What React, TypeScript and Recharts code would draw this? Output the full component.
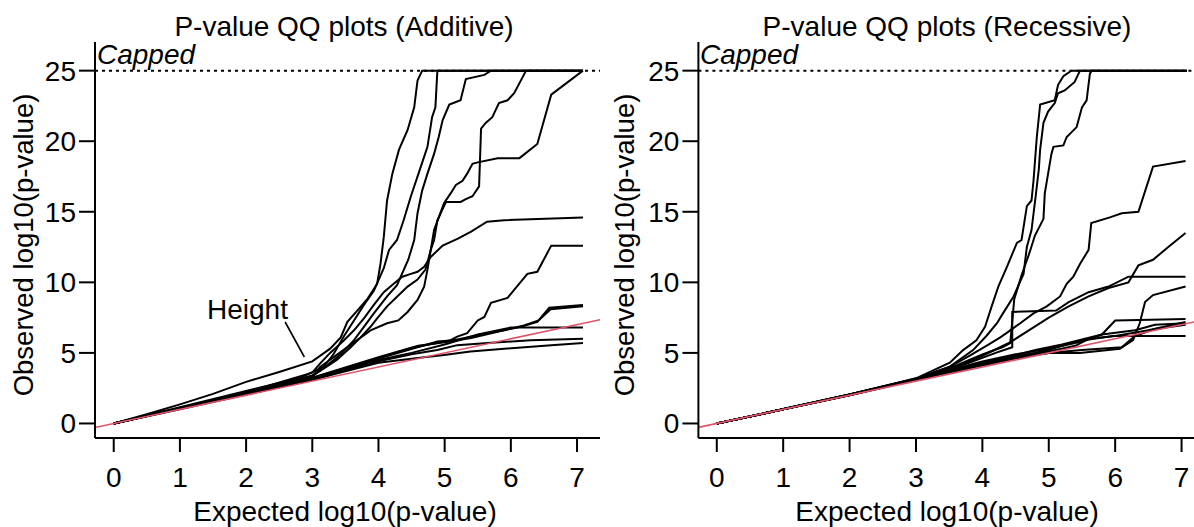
import { LineChart, Line, XAxis, YAxis, ReferenceLine } from 'recharts';

const FONT = '"Liberation Sans", Arial, Helvetica, sans-serif';
const xTicks = [0, 1, 2, 3, 4, 5, 6, 7];
const yTicks = [0, 5, 10, 15, 20, 25];
const CAP = 25;

// Additive panel: [expected, observed] pairs for each trait
const addHeight: [number, number][] = [[0,0],[0.5,0.65],[1,1.35],[1.5,2.1],[2,2.95],[2.5,3.65],[3,4.4],[3.27,5.3],[3.43,6.1],[3.53,7.2],[3.68,8.0],[3.83,8.8],[3.98,9.9],[4.03,11.3],[4.08,13.2],[4.13,15.8],[4.21,17.7],[4.31,19.4],[4.44,20.8],[4.54,22.4],[4.59,24.3],[4.66,25],[7.09,25]];
const addB: [number, number][] = [[0,0],[1,1.15],[2,2.3],[2.8,3.2],[3.17,4.0],[3.32,4.9],[3.48,6.2],[3.63,7.3],[3.78,8.4],[3.93,9.4],[4.08,11.0],[4.16,12.3],[4.28,13.0],[4.38,14.4],[4.49,16.1],[4.64,18.2],[4.74,19.6],[4.81,21.7],[4.86,22.4],[4.89,25],[7.09,25]];
const addC: [number, number][] = [[0,0],[1,1.1],[2,2.2],[3,3.4],[3.22,4.1],[3.43,4.9],[3.63,5.9],[3.78,6.85],[3.93,7.8],[4.13,9.0],[4.28,9.8],[4.45,11.6],[4.54,13.0],[4.59,14.9],[4.66,16.5],[4.74,17.7],[4.84,19.1],[4.91,20.3],[4.97,21.5],[5.07,22.6],[5.24,22.9],[5.32,24.4],[5.6,24.7],[5.7,25],[7.09,25]];
const addD: [number, number][] = [[0,0],[1,1.1],[2,2.2],[3,3.35],[3.37,4.5],[3.58,5.4],[3.73,6.1],[3.88,6.85],[3.98,7.45],[4.13,8.3],[4.28,8.98],[4.44,9.7],[4.59,10.2],[4.71,10.9],[4.79,12.3],[4.84,13.0],[4.89,14.4],[5.02,15.7],[5.24,15.7],[5.32,15.9],[5.42,16.1],[5.52,16.8],[5.55,20.9],[5.62,21.3],[5.72,21.7],[5.82,22.7],[5.95,22.9],[6.05,23.4],[6.23,25],[7.09,25]];
const addE: [number, number][] = [[0,0],[1,1.08],[2,2.15],[3,3.3],[3.12,4.0],[3.5,5.3],[3.88,6.6],[4.13,7.1],[4.3,7.3],[4.44,7.9],[4.59,8.75],[4.69,9.7],[4.74,10.9],[4.84,13.7],[4.99,15.6],[5.09,16.3],[5.17,16.9],[5.27,17.2],[5.34,17.7],[5.42,18.4],[5.5,18.5],[5.8,18.8],[6.13,18.8],[6.4,19.8],[6.61,23.3],[7.09,25]];
const addF: [number, number][] = [[0,0],[1,1.1],[2,2.2],[3,3.6],[3.12,4.26],[3.27,5.0],[3.48,5.9],[3.63,6.6],[3.78,7.45],[3.93,8.4],[4.08,9.3],[4.23,9.9],[4.36,10.4],[4.49,10.6],[4.59,10.75],[4.69,11.1],[4.79,11.8],[4.97,12.6],[5.2,13.1],[5.4,13.6],[5.64,14.3],[5.9,14.4],[7.09,14.6]];
const addG: [number, number][] = [[0,0],[1,1.05],[2,2.1],[3,3.2],[4,4.65],[4.5,5.35],[5.09,5.9],[5.19,6.15],[5.34,6.4],[5.5,7.3],[5.6,7.55],[5.7,8.55],[5.95,8.9],[6.25,10.6],[6.4,10.75],[6.61,12.6],[7.09,12.6]];
const addH: [number, number][] = [[0,0],[1,1.05],[2,2.1],[3,3.2],[4,4.6],[4.89,5.8],[5.14,5.9],[5.39,6.15],[5.65,6.4],[5.9,6.6],[6.15,6.85],[6.4,7.2],[6.58,8.2],[7.09,8.4]];
const addH2: [number, number][] = [[0,0],[1,1.05],[2,2.12],[3,3.25],[4,4.7],[4.6,5.5],[5.0,5.75],[5.4,6.05],[5.8,6.5],[6.2,6.95],[6.42,7.3],[6.6,8.1],[7.09,8.3]];
const addI: [number, number][] = [[0,0],[1,1.05],[2,2.1],[3,3.15],[4,4.5],[4.5,5.0],[5.0,5.6],[5.5,6.3],[6.0,6.8],[7.09,6.8]];
const addJ: [number, number][] = [[0,0],[1,1.05],[2,2.05],[3,3.1],[4,4.4],[4.5,4.9],[4.89,5.2],[5.19,5.55],[5.65,5.7],[6.3,5.9],[7.09,6.0]];
const addK: [number, number][] = [[0,0],[1,1.0],[2,2.05],[3,3.1],[4,4.3],[4.69,4.7],[4.99,4.85],[5.39,5.1],[5.9,5.3],[6.61,5.55],[7.09,5.7]];

// Recessive panel
const recA: [number, number][] = [[0,0],[1,1.02],[2,2.05],[3,3.2],[3.51,4.3],[3.71,5.2],[3.91,5.9],[4.04,6.85],[4.14,8.3],[4.24,9.7],[4.37,11.1],[4.52,12.8],[4.59,13.0],[4.67,15.4],[4.74,15.8],[4.77,17.2],[4.82,20.3],[4.87,22.6],[5.09,22.9],[5.14,24.0],[5.22,24.6],[5.34,25],[7.08,25]];
const recB: [number, number][] = [[0,0],[1,1.02],[2,2.05],[3,3.18],[3.5,4.0],[3.86,5.2],[4.06,6.2],[4.22,7.1],[4.31,7.8],[4.47,9.0],[4.62,10.6],[4.67,12.5],[4.74,13.7],[4.8,16.0],[4.85,18.0],[4.87,19.4],[4.92,21.3],[4.99,22.1],[5.09,22.7],[5.14,23.4],[5.24,23.6],[5.39,24.2],[5.47,25],[7.08,25]];
const recC: [number, number][] = [[0,0],[1,1.0],[2,2.03],[3,3.15],[3.6,4.1],[4.0,4.9],[4.3,5.4],[4.42,5.7],[4.48,8.8],[4.59,10.5],[4.71,12.1],[4.79,13.3],[4.92,14.5],[4.94,16.3],[4.99,17.7],[5.04,19.1],[5.07,19.6],[5.22,19.7],[5.27,20.3],[5.42,21.0],[5.5,22.4],[5.57,22.9],[5.62,24.8],[5.65,25],[7.08,25]];
const recD: [number, number][] = [[0,0],[1,1.0],[2,2.03],[3,3.15],[3.5,4.0],[3.81,4.8],[4.06,5.5],[4.27,6.1],[4.42,6.6],[4.57,7.1],[4.77,7.8],[4.97,8.3],[5.17,9.0],[5.27,9.9],[5.37,10.4],[5.47,11.3],[5.6,12.3],[5.64,14.2],[5.92,14.6],[6.1,14.9],[6.35,15.0],[6.57,18.2],[7.06,18.6]];
const recE: [number, number][] = [[0,0],[1,1.0],[2,2.02],[3,3.12],[3.6,4.0],[4.0,4.8],[4.4,5.7],[4.7,6.6],[5.0,7.5],[5.3,8.3],[5.6,9.0],[5.9,9.6],[6.2,10.0],[6.35,11.2],[6.57,11.6],[6.8,12.5],[7.06,13.5]];
const recF: [number, number][] = [[0,0],[1,1.0],[2,2.02],[3,3.1],[3.8,4.3],[4.2,5.0],[4.45,5.4],[4.45,7.9],[5.11,8.0],[5.3,8.6],[5.6,9.3],[5.9,9.7],[6.2,10.4],[7.06,10.4]];
const recG: [number, number][] = [[0,0],[1,1.0],[2,2.0],[3,3.1],[4,4.3],[4.5,4.7],[5.0,5.0],[5.47,5.0],[6.07,5.3],[6.27,5.9],[6.37,7.1],[6.45,8.6],[6.57,9.1],[7.06,9.7]];
const recH: [number, number][] = [[0,0],[1,1.0],[2,2.05],[3,3.15],[4,4.4],[4.5,4.9],[5.0,5.3],[5.5,5.8],[5.8,6.3],[6.0,7.3],[7.06,7.4]];
const recI: [number, number][] = [[0,0],[1,1.0],[2,2.05],[3,3.15],[4,4.3],[4.5,4.8],[5.0,5.1],[5.4,5.5],[5.6,6.0],[6.0,6.2],[6.5,6.6],[7.06,7.2]];
const recJ: [number, number][] = [[0,0],[1,1.0],[2,2.02],[3,3.1],[4,4.2],[4.5,4.7],[5.0,5.2],[5.4,5.8],[5.97,6.2],[7.06,6.2]];
const recK: [number, number][] = [[0,0],[1,1.0],[2,2.0],[3,3.1],[4,4.1],[4.5,4.6],[5.0,5.0],[5.5,5.2],[6.1,5.4],[6.3,6.2],[6.6,6.7],[7.06,7.0]];
const recL: [number, number][] = [[0,0],[1,1.0],[2,2.02],[3,3.12],[4,4.25],[4.8,5.2],[5.2,5.6],[5.8,6.3],[6.3,6.6],[6.6,7.0],[7.06,7.1]];

const additive = [addHeight, addB, addC, addD, addE, addF, addG, addH, addH2, addI, addJ, addK];
const recessive = [recA, recB, recC, recD, recE, recF, recG, recH, recI, recJ, recK, recL];

const toRows = (pts: [number, number][]) => pts.map(([x, y]) => ({ x, y }));

type PanelProps = {
  series: [number, number][][];
  left: number;
  width: number;
  yAxisWidth: number;
  xDomain: [number, number];
  pointer?: boolean;
};

function QQPanel({ series, left, width, yAxisWidth, xDomain, pointer }: PanelProps) {
  const diag = [{ x: xDomain[0], y: xDomain[0] }, { x: xDomain[1], y: xDomain[1] }];
  const tick = { fontSize: 28, fill: '#000', fontFamily: FONT };
  const ax = { stroke: '#000', strokeWidth: 2 };
  return (
    <div style={{ position: 'absolute', left, top: 0 }}>
      <LineChart width={width} height={527} margin={{ top: 42, right: 0, bottom: 0, left: 0 }}>
        <XAxis
          dataKey="x"
          type="number"
          domain={xDomain}
          allowDataOverflow
          ticks={xTicks}
          tick={tick}
          tickSize={14}
          tickMargin={15}
          axisLine={ax}
          tickLine={ax}
          height={89}
        />
        <YAxis
          dataKey="y"
          type="number"
          domain={[-1.03, 27.03]}
          allowDataOverflow
          ticks={yTicks}
          tick={tick}
          tickSize={16}
          tickMargin={3}
          axisLine={ax}
          tickLine={ax}
          width={yAxisWidth}
        />
        <ReferenceLine y={CAP} stroke="#000" strokeWidth={2} strokeDasharray="3 4" />
        {series.map((s, i) => (
          <Line
            key={i}
            data={toRows(s)}
            dataKey="y"
            type="linear"
            stroke="#000"
            strokeWidth={2}
            dot={false}
            activeDot={false}
            isAnimationActive={false}
          />
        ))}
        {pointer && (
          <ReferenceLine
            segment={[{ x: 2.59, y: 7.19 }, { x: 2.88, y: 4.71 }]}
            stroke="#000"
            strokeWidth={1.6}
          />
        )}
        <Line
          data={diag}
          dataKey="y"
          type="linear"
          stroke="#DF536B"
          strokeWidth={1.6}
          dot={false}
          activeDot={false}
          isAnimationActive={false}
        />
      </LineChart>
    </div>
  );
}

export default function App() {
  const txt = { fontFamily: FONT, fontSize: 28, fill: '#000' } as const;
  return (
    <div style={{ position: 'absolute', left: 0, top: 0, width: 1194, height: 527, overflow: 'hidden', background: '#fff' }}>
      <QQPanel series={additive} left={0} width={600} yAxisWidth={95} xDomain={[-0.283, 7.347]} pointer />
      <QQPanel series={recessive} left={597} width={608} yAxisWidth={101.4} xDomain={[-0.277, 7.353]} />
      <svg width={1194} height={527} style={{ position: 'absolute', left: 0, top: 0, pointerEvents: 'none' }}>
        <text x={344} y={36} textAnchor="middle" {...txt}>P-value QQ plots (Additive)</text>
        <text x={947} y={36} textAnchor="middle" {...txt}>P-value QQ plots (Recessive)</text>
        <text x={345} y={521} textAnchor="middle" {...txt}>Expected log10(p-value)</text>
        <text x={947} y={521} textAnchor="middle" {...txt}>Expected log10(p-value)</text>
        <text transform="translate(33,245) rotate(-90)" textAnchor="middle" {...txt} fontSize={27.5}>Observed log10(p-value)</text>
        <text transform="translate(634,245) rotate(-90)" textAnchor="middle" {...txt} fontSize={27.5}>Observed log10(p-value)</text>
        <text x={97} y={64} {...txt} fontStyle="italic">Capped</text>
        <text x={700} y={64} {...txt} fontStyle="italic">Capped</text>
        <text x={207} y={319} {...txt}>Height</text>
      </svg>
    </div>
  );
}
